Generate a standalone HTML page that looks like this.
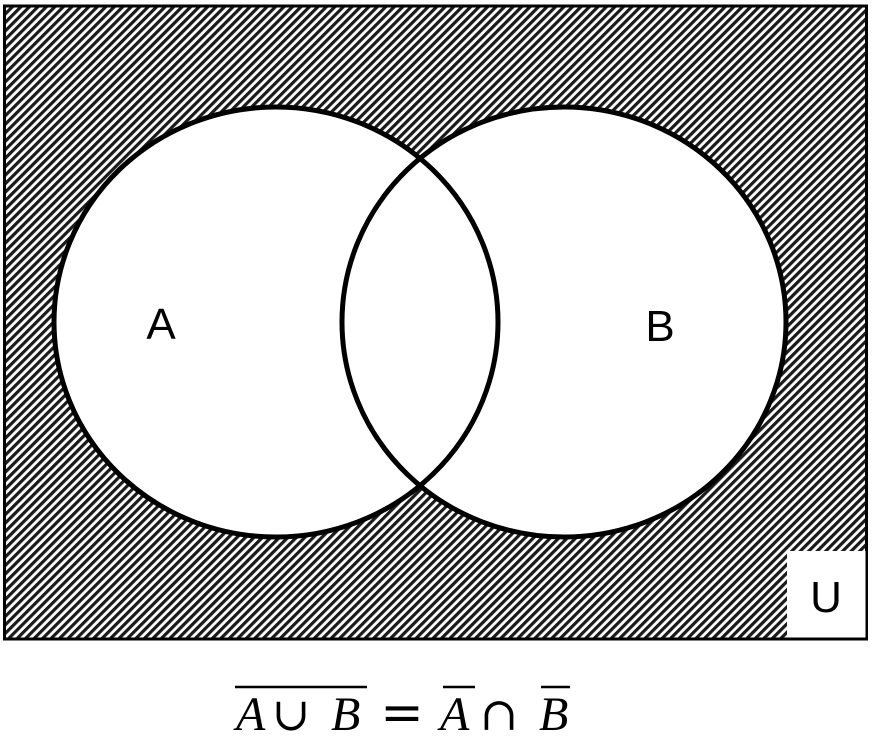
<!DOCTYPE html>
<html><head><meta charset="utf-8"><style>
html,body{margin:0;padding:0;background:#fff;width:872px;height:742px;overflow:hidden}
</style></head><body>
<svg width="872" height="742" viewBox="0 0 872 742" xmlns="http://www.w3.org/2000/svg">
<defs>
<pattern id="hatch" patternUnits="userSpaceOnUse" width="6" height="6" patternTransform="rotate(45)">
<rect width="6" height="6" fill="#fff"/>
<rect width="3.2" height="6" fill="#1a1a1a"/>
</pattern>
</defs>
<rect x="4.5" y="6" width="862" height="633" fill="url(#hatch)" stroke="#000" stroke-width="3"/>
<rect x="787" y="551" width="78.5" height="86.5" fill="#fff"/>
<ellipse cx="276" cy="322" rx="222" ry="215" fill="#fff"/>
<ellipse cx="564" cy="322" rx="222" ry="215" fill="#fff"/>
<ellipse cx="276" cy="322" rx="222" ry="215" fill="none" stroke="#000" stroke-width="5"/>
<ellipse cx="564" cy="322" rx="222" ry="215" fill="none" stroke="#000" stroke-width="5"/>
<text x="161" y="339" font-family="Liberation Sans, sans-serif" font-size="44" text-anchor="middle">A</text>
<text x="660" y="341" font-family="Liberation Sans, sans-serif" font-size="44" text-anchor="middle">B</text>
<text x="826" y="612" font-family="Liberation Sans, sans-serif" font-size="44" text-anchor="middle">U</text>
<g font-family="Liberation Serif, serif" font-size="48">
<line x1="235" y1="687" x2="367" y2="687" stroke="#000" stroke-width="2.5"/>
<text x="236" y="730" font-style="italic">A</text>
<text x="291" y="730" font-family="DejaVu Serif, serif" font-size="46" text-anchor="middle">∪</text>
<text x="331" y="730" font-style="italic">B</text>
<text x="402" y="730" font-family="DejaVu Serif, serif" font-size="52" text-anchor="middle">=</text>
<line x1="443" y1="687" x2="475" y2="687" stroke="#000" stroke-width="2.5"/>
<text x="440" y="730" font-style="italic">A</text>
<text x="499" y="730" font-family="DejaVu Serif, serif" font-size="46" text-anchor="middle">∩</text>
<line x1="541" y1="687" x2="570" y2="687" stroke="#000" stroke-width="2.5"/>
<text x="539" y="730" font-style="italic">B</text>
</g>
</svg>
</body></html>
